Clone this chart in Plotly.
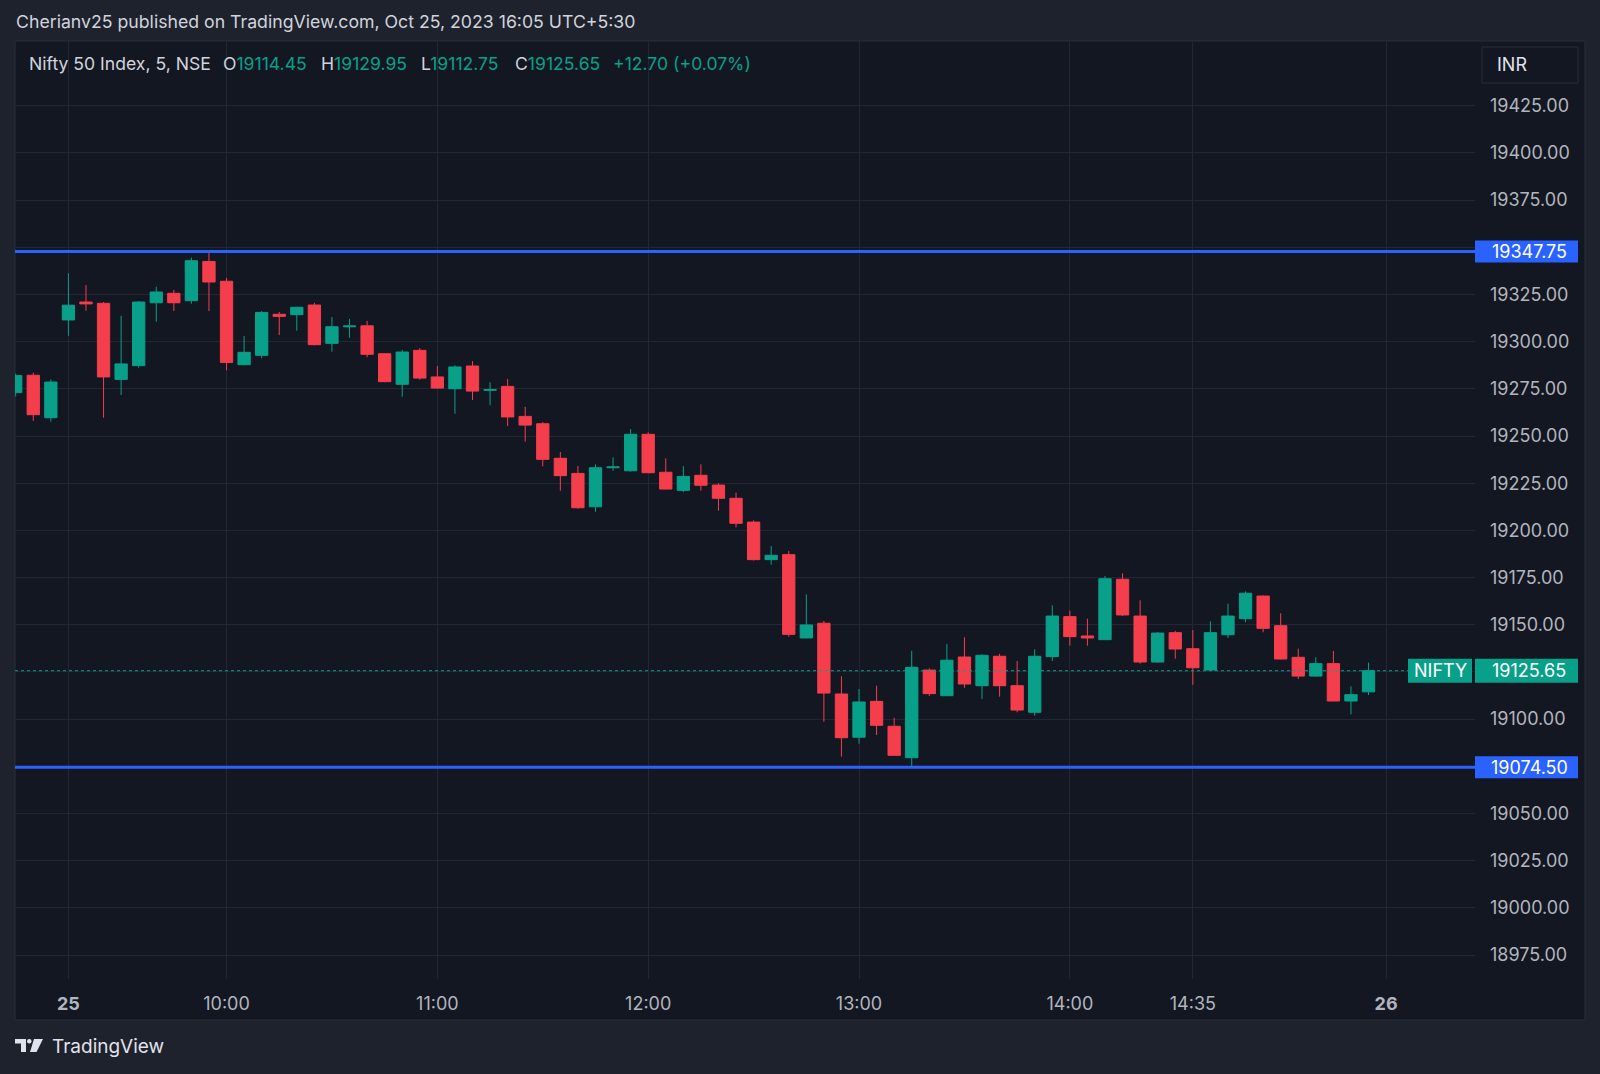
import plotly.graph_objects as go

# ---------------- data ----------------
days = ["23"] * 3 + ["25"] * 75
times = [
    "15:15", "15:20", "15:25",
    "09:15", "09:20", "09:25", "09:30", "09:35", "09:40", "09:45", "09:50", "09:55",
    "10:00", "10:05", "10:10", "10:15", "10:20", "10:25", "10:30", "10:35", "10:40", "10:45", "10:50", "10:55",
    "11:00", "11:05", "11:10", "11:15", "11:20", "11:25", "11:30", "11:35", "11:40", "11:45", "11:50", "11:55",
    "12:00", "12:05", "12:10", "12:15", "12:20", "12:25", "12:30", "12:35", "12:40", "12:45", "12:50", "12:55",
    "13:00", "13:05", "13:10", "13:15", "13:20", "13:25", "13:30", "13:35", "13:40", "13:45", "13:50", "13:55",
    "14:00", "14:05", "14:10", "14:15", "14:20", "14:25", "14:30", "14:35", "14:40", "14:45", "14:50", "14:55",
    "15:00", "15:05", "15:10", "15:15", "15:20", "15:25",
]
opens = [
    19273.0, 19282.2, 19259.7,
    19311.5, 19321.0, 19320.3, 19280.0, 19287.3, 19320.6, 19325.6, 19321.7, 19342.5,
    19332.0, 19287.8, 19292.75, 19314.5, 19314.3, 19319.4, 19299.1, 19307.9, 19308.4, 19293.6, 19277.4, 19295.4,
    19281.3, 19275.05, 19287.1, 19274.2, 19276.3, 19260.4, 19256.5, 19238.2, 19230.2, 19212.5, 19233.2, 19231.6,
    19250.9, 19230.8, 19221.2, 19229.2, 19224.0, 19217.0, 19204.4, 19184.5, 19187.15, 19143.0, 19150.8, 19113.3,
    19090.4, 19109.4, 19096.2, 19079.55, 19126.0, 19112.4, 19132.9, 19117.7, 19133.3, 19117.7, 19103.6, 19133.1,
    19154.3, 19144.05, 19142.1, 19174.1, 19154.6, 19130.25, 19145.8, 19137.3, 19126.0, 19144.7, 19153.2, 19165.2,
    19149.5, 19132.75, 19122.8, 19129.4, 19109.6, 19114.45,
]
highs = [
    19283.0, 19283.5, 19280.0,
    19336.2, 19330.0, 19321.0, 19313.7, 19321.5, 19329.1, 19327.4, 19344.5, 19347.75,
    19333.7, 19303.0, 19316.2, 19315.7, 19318.5, 19320.6, 19313.05, 19312.1, 19310.95, 19294.0, 19295.6, 19296.6,
    19287.1, 19287.5, 19289.7, 19278.45, 19280.2, 19265.5, 19257.4, 19241.5, 19234.1, 19235.0, 19238.7, 19253.7,
    19252.0, 19238.2, 19234.1, 19235.0, 19225.0, 19220.0, 19205.3, 19191.7, 19189.1, 19166.1, 19152.0, 19122.7,
    19115.95, 19117.7, 19100.7, 19136.2, 19126.9, 19139.8, 19143.35, 19134.3, 19134.65, 19130.8, 19137.0, 19160.3,
    19157.45, 19153.2, 19175.8, 19177.25, 19162.95, 19146.1, 19146.8, 19147.2, 19151.8, 19161.15, 19167.7, 19165.5,
    19156.1, 19137.3, 19132.75, 19136.1, 19117.4, 19129.95,
]
lows = [
    19271.0, 19258.0, 19257.6,
    19303.1, 19316.4, 19259.7, 19271.7, 19286.2, 19310.6, 19316.2, 19320.1, 19316.2,
    19284.8, 19287.5, 19291.2, 19303.5, 19305.8, 19298.0, 19294.7, 19302.1, 19291.7, 19278.5, 19270.8, 19279.8,
    19275.0, 19261.8, 19269.1, 19266.3, 19255.3, 19247.0, 19233.95, 19221.0, 19211.5, 19209.9, 19231.6, 19231.1,
    19230.5, 19221.7, 19220.3, 19221.0, 19210.4, 19201.6, 19184.0, 19181.8, 19143.7, 19142.8, 19098.6, 19080.1,
    19087.0, 19091.6, 19080.5, 19074.5, 19112.25, 19112.2, 19116.6, 19110.65, 19111.9, 19103.6, 19101.8, 19130.8,
    19138.9, 19138.9, 19141.9, 19154.6, 19129.35, 19130.0, 19132.0, 19118.2, 19125.8, 19143.0, 19151.3, 19146.0,
    19131.6, 19121.25, 19122.5, 19109.4, 19102.55, 19112.75,
]
closes = [
    19282.0, 19261.3, 19278.6,
    19319.3, 19320.0, 19281.3, 19288.2, 19321.0, 19326.3, 19320.6, 19342.9, 19331.6,
    19289.0, 19294.35, 19315.5, 19313.4, 19318.2, 19298.4, 19307.9, 19308.3, 19293.3, 19278.8, 19294.5, 19280.7,
    19275.4, 19286.6, 19273.8, 19274.6, 19260.1, 19255.8, 19237.65, 19229.0, 19212.0, 19233.2, 19233.6, 19250.9,
    19230.55, 19221.9, 19228.6, 19223.9, 19217.0, 19203.75, 19184.5, 19186.8, 19144.9, 19149.9, 19113.8, 19090.15,
    19109.1, 19096.7, 19080.8, 19127.45, 19113.5, 19131.2, 19118.6, 19133.8, 19117.7, 19104.8, 19133.3, 19154.6,
    19143.7, 19143.0, 19174.4, 19155.2, 19130.25, 19145.6, 19137.15, 19127.2, 19145.8, 19154.6, 19166.7, 19148.1,
    19131.85, 19122.8, 19129.4, 19109.6, 19112.95, 19125.65,
]

resistance = 19347.75
support = 19074.50
last_close = 19125.65
change = 12.70
change_pct = 0.07

price_ticks = [18975, 19000, 19025, 19050, 19075, 19100, 19125, 19150, 19175,
               19200, 19225, 19250, 19275, 19300, 19325, 19350, 19375, 19400, 19425]
hidden_price_ticks = [19075, 19125, 19350]   # covered by the price labels
time_tick_labels = ["25", "10:00", "11:00", "12:00", "13:00", "14:00", "14:35", "26"]

# ---------------- styling ----------------
UP = "#09a08a"
DOWN = "#f53e4c"
BLUE = "#2962ff"
PANEL = "#131722"
OUTER = "#1e222d"
GRID = "#232735"
TEXT = "#d1d4dc"
AXT = "#b2b5be"
FONT = "Inter, Roboto, 'Noto Sans', sans-serif"
FS = 18

W, H = 1600, 1074
L, R, T, B = 15, 1475, 41, 979  # plot area in pixels


def px(x):
    return (x - L) / (R - L)


def py(y):
    return (B - y) / (B - T)


start = days.index("25")
xs = [i - start for i in range(len(times))]


def tick_pos(label):
    if label == "25":
        return 0
    if label == "26":
        return len(times) - start
    return times.index(label, start) - start


tickvals_x = [tick_pos(t) for t in time_tick_labels]
ticktext_x = [f"<b>{t}</b>" if t in ("25", "26") else t for t in time_tick_labels]
ticktext_y = ["" if v in hidden_price_ticks else f"{v:.2f}" for v in price_ticks]

fig = go.Figure()
fig.add_trace(go.Candlestick(
    x=xs, open=opens, high=highs, low=lows, close=closes,
    increasing=dict(line=dict(color=UP, width=1), fillcolor=UP),
    decreasing=dict(line=dict(color=DOWN, width=1), fillcolor=DOWN),
    whiskerwidth=0, hoverinfo="skip", showlegend=False,
))

shapes = []
# panel background + border
shapes.append(dict(type="rect", xref="paper", yref="paper", x0=px(15), x1=px(1585), y0=py(41), y1=py(1020),
                   fillcolor=PANEL, line=dict(color="#2a2e39", width=1), layer="below"))
# dotted last-price line
shapes.append(dict(type="line", xref="paper", yref="y", x0=0, x1=px(1408), y0=last_close, y1=last_close,
                   line=dict(color=UP, width=1, dash="dot")))
# support / resistance lines
for lvl in (resistance, support):
    shapes.append(dict(type="line", xref="paper", yref="y", x0=0, x1=1, y0=lvl, y1=lvl,
                       line=dict(color=BLUE, width=3)))
    shapes.append(dict(type="rect", xref="paper", yref="y", ysizemode="pixel", yanchor=lvl,
                       x0=px(1475), x1=px(1578), y0=-11, y1=11, fillcolor=BLUE, line=dict(width=0)))
# NIFTY labels
shapes.append(dict(type="rect", xref="paper", yref="y", ysizemode="pixel", yanchor=last_close,
                   x0=px(1408), x1=px(1472), y0=-12, y1=12, fillcolor=UP, line=dict(width=0)))
shapes.append(dict(type="rect", xref="paper", yref="y", ysizemode="pixel", yanchor=last_close,
                   x0=px(1475), x1=px(1578), y0=-12, y1=12, fillcolor=UP, line=dict(width=0)))
# INR box
shapes.append(dict(type="rect", xref="paper", yref="paper", x0=px(1482), x1=px(1578), y0=py(47), y1=py(83),
                   fillcolor="#131722", line=dict(color="#2a2e39", width=1)))
# TradingView logo (approximation)
LOGO = "#e0e3eb"
shapes.append(dict(type="path", xref="paper", yref="paper",
                   path=f"M {px(15)} {py(1039)} L {px(26)} {py(1039)} L {px(26)} {py(1052)} L {px(21)} {py(1052)} "
                        f"L {px(21)} {py(1043.5)} L {px(15)} {py(1043.5)} Z",
                   fillcolor=LOGO, line=dict(width=0)))
shapes.append(dict(type="circle", xref="paper", yref="paper", x0=px(27), x1=px(31.5), y0=py(1039), y1=py(1043.5),
                   fillcolor=LOGO, line=dict(width=0)))
shapes.append(dict(type="path", xref="paper", yref="paper",
                   path=f"M {px(34)} {py(1039)} L {px(43)} {py(1039)} L {px(36.5)} {py(1052)} L {px(30)} {py(1052)} Z",
                   fillcolor=LOGO, line=dict(width=0)))

ann = []


def text(x, y, s, size=FS, color=TEXT, xanchor="left", yref="paper"):
    ann.append(dict(x=px(x), y=(py(y) if yref == "paper" else y), xref="paper", yref=yref, text=s,
                    showarrow=False, xanchor=xanchor, yanchor="middle",
                    font=dict(family=FONT, size=size, color=color)))


text(14, 22, "Cherianv25 published on TradingView.com, Oct 25, 2023 16:05 UTC+5:30", size=17.7)
text(26.5, 63, "Nifty 50 Index, 5, NSE", size=17.6)
leg_color = UP if change >= 0 else DOWN
text(221, 63, f"O<span style='color:{leg_color}'>{opens[-1]:.2f}</span>", size=17.6)
text(319, 63, f"H<span style='color:{leg_color}'>{highs[-1]:.2f}</span>", size=17.6)
text(419, 63, f"L<span style='color:{leg_color}'>{lows[-1]:.2f}</span>", size=17.6)
text(513, 63, f"C<span style='color:{leg_color}'>{closes[-1]:.2f}</span>", size=17.6)
text(611, 63, f"{change:+.2f} ({change_pct:+.2f}%)", color=leg_color, size=17.6)
text(1495, 64, "INR", color="#e0e3eb")
text(1529, resistance, f"{resistance:.2f}", color="white", xanchor="center", yref="y")
text(1529, support, f"{support:.2f}", color="white", xanchor="center", yref="y")
text(1440, last_close, "NIFTY", color="white", xanchor="center", yref="y")
text(1529, last_close, f"{last_close:.2f}", color="white", xanchor="center", yref="y")
text(50, 1046, "TradingView", size=19, color=LOGO)

fig.update_layout(
    width=W, height=H,
    margin=dict(l=L, r=W - R, t=T, b=H - B, pad=0),
    paper_bgcolor=OUTER, plot_bgcolor=PANEL,
    font=dict(family=FONT, size=FS, color=AXT),
    showlegend=False,
    boxgap=0.3, boxgroupgap=0.0,
    shapes=shapes, annotations=ann,
    xaxis=dict(range=[-3.04, 80.06], tickmode="array", tickvals=tickvals_x, ticktext=ticktext_x,
               showgrid=True, gridcolor=GRID, gridwidth=1, zeroline=False, showline=False,
               rangeslider=dict(visible=False), ticks="", ticklabelstandoff=12,
               tickfont=dict(family=FONT, size=FS, color=AXT), fixedrange=True),
    yaxis=dict(range=[18962.3, 19459.3], side="right", tickmode="array", tickvals=price_ticks,
               ticktext=ticktext_y, showgrid=True, gridcolor=GRID, gridwidth=1, zeroline=False,
               showline=False, ticks="", ticklabelstandoff=14,
               tickfont=dict(family=FONT, size=FS, color=AXT), fixedrange=True),
)

fig.write_html("out.html", config={"displayModeBar": False},
               post_script="document.body.style.margin='0';document.body.style.overflow='hidden';")
